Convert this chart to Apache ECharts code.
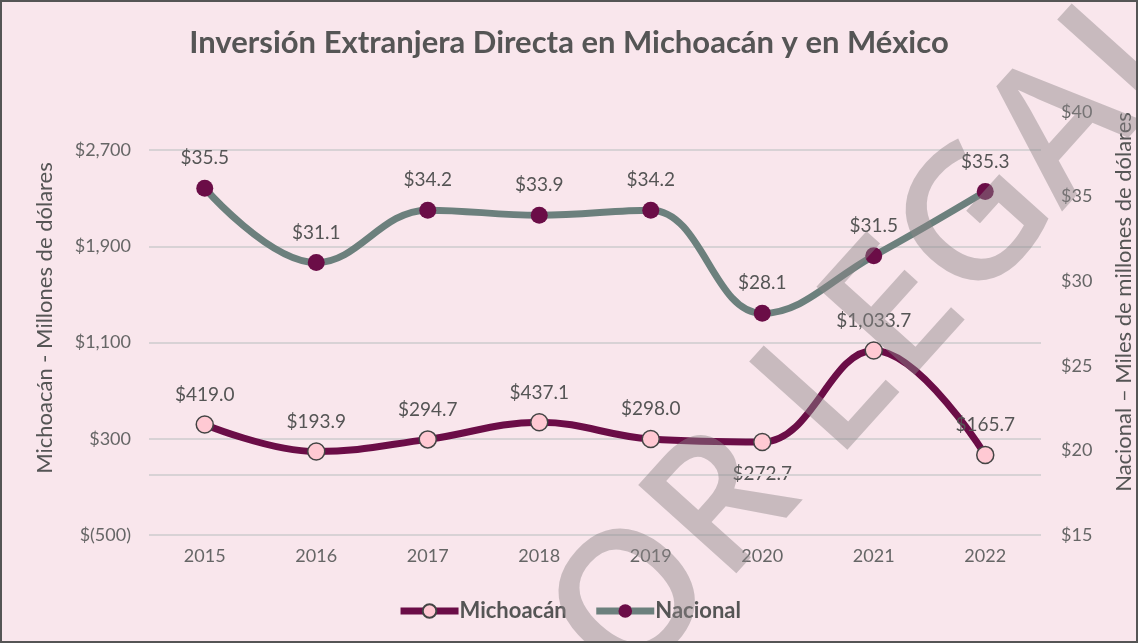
<!DOCTYPE html>
<html>
<head>
<meta charset="utf-8">
<script src="https://cdn.jsdelivr.net/npm/echarts@6/dist/echarts.min.js"></script>
<style>
  html, body { margin: 0; padding: 0; background: #f9e6ec; }
  #chart { width: 1138px; height: 643px; }
</style>
</head>
<body>
<div id="chart"></div>
<script>
// datos
const years = ['2015', '2016', '2017', '2018', '2019', '2020', '2021', '2022']
const michoacan = [419.0, 193.9, 294.7, 437.1, 298.0, 272.7, 1033.7, 165.7]
const nacional = [35.5, 31.1, 34.2, 33.9, 34.2, 28.1, 31.5, 35.3]
const leftTicks = { min: -500, max: 2700, interval: 800 }
const rightTicks = { min: 15, max: 40, interval: 5 }

const txt = '#555'
const font = 'Lato'

const fmtMillones = v => {
  const s = Math.abs(v).toLocaleString('en-US')
  return v < 0 ? '$(' + s + ')' : '$' + s
}

const chart = echarts.init(document.getElementById('chart'))
chart.setOption({
  backgroundColor: '#f9e6ec',
  textStyle: { fontFamily: font },
  title: {
    text: 'Inversión Extranjera Directa en Michoacán y en México',
    left: 'center',
    top: 22,
    textStyle: { fontFamily: font, fontSize: 31, fontWeight: 'bold', color: txt }
  },
  legend: {
    bottom: 16,
    left: 'center',
    itemWidth: 58,
    itemHeight: 17,
    itemGap: 26,
    lineStyle: { width: 7 },
    textStyle: { fontFamily: font, fontSize: 22, fontWeight: 'bold', color: txt, padding: [0, 0, 0, -4] },
    data: ['Michoacán', 'Nacional']
  },
  grid: [
    { left: 149, right: 97, top: 150, bottom: 108 },
    { left: 149, right: 97, top: 112, bottom: 108 }
  ],
  xAxis: [
    {
      type: 'category', gridIndex: 0, data: years,
      axisLine: { show: false }, axisTick: { show: false },
      axisLabel: { color: '#666', fontSize: 18, margin: 12 }
    },
    {
      type: 'category', gridIndex: 1, data: years, show: false
    }
  ],
  yAxis: [
    {
      type: 'value', gridIndex: 0, position: 'left',
      min: leftTicks.min, max: leftTicks.max, interval: leftTicks.interval,
      axisLine: { show: false }, axisTick: { show: false },
      axisLabel: { color: '#666', fontSize: 18, margin: 18, formatter: fmtMillones },
      splitLine: { lineStyle: { color: '#d8d2d5', width: 2 } }
    },
    {
      type: 'value', gridIndex: 1, position: 'right',
      min: rightTicks.min, max: rightTicks.max, interval: rightTicks.interval,
      axisLine: { show: false }, axisTick: { show: false },
      axisLabel: { color: '#666', fontSize: 18, margin: 20, formatter: v => '$' + v },
      splitLine: { show: false }
    }
  ],
  series: [
    {
      name: 'Michoacán',
      type: 'line',
      xAxisIndex: 0, yAxisIndex: 0,
      data: michoacan,
      smooth: 0.4,
      symbol: 'circle',
      symbolSize: 17,
      lineStyle: { color: '#6b0d47', width: 7 },
      itemStyle: { color: '#ffc9d3', borderColor: '#444', borderWidth: 1.5 },
      label: {
        show: true,
        position: 'top',
        distance: 11,
        fontSize: 19,
        color: txt,
        formatter: p => '$' + p.value.toLocaleString('en-US', { minimumFractionDigits: 1, maximumFractionDigits: 1 })
      },
      labelLayout: p => (p.dataIndex === 5 ? { dy: 62 } : {}),
      markLine: {
        silent: true,
        symbol: 'none',
        label: { show: false },
        lineStyle: { color: '#d8d2d5', width: 2, type: 'solid' },
        data: [{ yAxis: 0 }]
      },
      z: 3
    },
    {
      name: 'Nacional',
      type: 'line',
      xAxisIndex: 1, yAxisIndex: 1,
      data: nacional,
      smooth: 0.4,
      symbol: 'circle',
      symbolSize: 17,
      lineStyle: { color: '#6c807d', width: 7 },
      itemStyle: { color: '#6b0d47' },
      label: {
        show: true,
        position: 'top',
        distance: 12,
        fontSize: 19,
        color: txt,
        formatter: p => '$' + p.value.toFixed(1)
      },
      z: 3
    }
  ],
  graphic: [
    {
      type: 'text',
      style: {
        text: 'Michoacán - Millones de dólares',
        fontFamily: font, fontSize: 22, fill: txt,
        textAlign: 'center', textVerticalAlign: 'middle'
      },
      position: [45, 318],
      rotation: Math.PI / 2
    },
    {
      type: 'text',
      style: {
        text: 'Nacional – Miles de millones de dólares',
        fontFamily: font, fontSize: 22, fill: txt,
        textAlign: 'center', textVerticalAlign: 'middle'
      },
      position: [1124, 302],
      rotation: Math.PI / 2
    },
    {
      type: 'text',
      silent: true,
      z: 100,
      style: {
        text: 'OR LEGAL',
        fontFamily: 'Open Sans', fontSize: 185, fontWeight: 600,
        fill: 'rgba(140,132,136,0.45)',
        textAlign: 'center', textVerticalAlign: 'middle'
      },
      position: [880, 335],
      rotation: 48 * Math.PI / 180
    },
    {
      type: 'rect',
      silent: true,
      z: 101,
      shape: { x: 1, y: 1, width: 1136, height: 641 },
      style: { fill: 'none', stroke: '#555', lineWidth: 2 }
    }
  ]
})
</script>
</body>
</html>
